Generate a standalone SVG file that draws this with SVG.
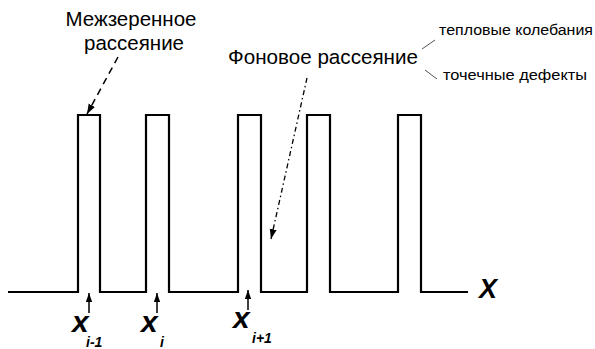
<svg xmlns="http://www.w3.org/2000/svg" width="595" height="349" viewBox="0 0 595 349">
<style>
.sig{fill:none;stroke:#000;stroke-width:2.2;stroke-linejoin:miter}
.lbl{font-family:"Liberation Sans",Arial,sans-serif;fill:#000}
.big{font-size:20.5px}
.sm{font-size:15.5px}
.var{font-family:"Liberation Sans",Arial,sans-serif;font-weight:bold;font-style:italic;fill:#000}
.thin{stroke:#555;stroke-width:1;fill:none}
</style>
<defs>
<marker id="ah" viewBox="0 0 10 10" refX="10" refY="5" markerWidth="10" markerHeight="10" markerUnits="userSpaceOnUse" orient="auto">
<path d="M0,1.5 L10,5 L0,8.5 Z" fill="#000"/>
</marker>
<marker id="ahs" viewBox="0 0 10 10" refX="10" refY="5" markerWidth="9" markerHeight="9" markerUnits="userSpaceOnUse" orient="auto">
<path d="M0,1.5 L10,5 L0,8.5 Z" fill="#000"/>
</marker>
</defs>
<g id="signal">
<path class="sig" d="M8,292 H78 V115 H100 V292 H146 V115 H169 V292 H238 V115 H261 V292 H307 V115 H330 V292 H398 V115 H421 V292 H468"/>
</g>
<g id="label-mezh">
<text class="lbl big" x="131" y="26" text-anchor="middle">Межзеренное</text>
<text class="lbl big" x="134" y="50" text-anchor="middle">рассеяние</text>
</g>
<g id="label-fon">
<text class="lbl big" x="228" y="64" textLength="190" lengthAdjust="spacingAndGlyphs">Фоновое рассеяние</text>
</g>
<g id="label-thermal">
<text class="lbl sm" x="439" y="35" textLength="154" lengthAdjust="spacingAndGlyphs">тепловые колебания</text>
</g>
<g id="label-defects">
<text class="lbl sm" x="443" y="80" textLength="144" lengthAdjust="spacingAndGlyphs">точечные дефекты</text>
</g>
<g id="axis-x">
<text class="var" x="479" y="298" font-size="27">X</text>
</g>
<g id="x-im1">
<text class="var" x="72" y="332" font-size="30">x</text>
<text class="var" x="86" y="347" font-size="14">i-1</text>
</g>
<g id="x-i">
<text class="var" x="141" y="332" font-size="30">x</text>
<text class="var" x="160" y="347" font-size="14">i</text>
</g>
<g id="x-ip1">
<text class="var" x="233" y="328" font-size="30">x</text>
<text class="var" x="252" y="343" font-size="14">i+1</text>
</g>
<g id="connectors">
<line x1="118" y1="57" x2="87" y2="114" stroke="#000" stroke-width="1.5" stroke-dasharray="7,5" marker-end="url(#ah)"/>
<line x1="307" y1="78" x2="271" y2="239" stroke="#000" stroke-width="1.3" stroke-dasharray="5,3,1.5,3" marker-end="url(#ah)"/>
<line x1="89" y1="313" x2="89" y2="293" stroke="#000" stroke-width="1.5" marker-end="url(#ahs)"/>
<line x1="157" y1="313" x2="157" y2="293" stroke="#000" stroke-width="1.5" marker-end="url(#ahs)"/>
<line x1="248" y1="310" x2="248" y2="290" stroke="#000" stroke-width="1.5" marker-end="url(#ahs)"/>
<line class="thin" x1="422" y1="49" x2="435" y2="40"/>
<line class="thin" x1="425" y1="70" x2="437" y2="79"/>
</g>
</svg>
